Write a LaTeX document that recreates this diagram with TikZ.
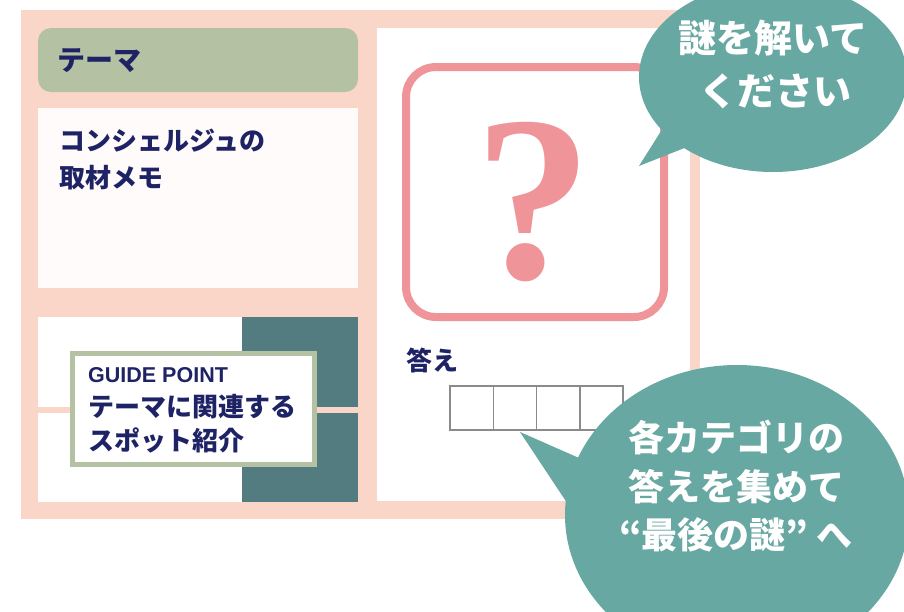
\documentclass[tikz,border=0pt]{standalone}
\usepackage{fontspec}
\newfontfamily\jp{Noto Sans CJK JP}
\newfontfamily\gfont{Liberation Sans}
\newfontfamily\qfont{Liberation Serif}
\definecolor{framepink}{HTML}{F9D6C8}
\definecolor{themegreen}{HTML}{B4C1A3}
\definecolor{memowhite}{HTML}{FFFBFA}
\definecolor{darkteal}{HTML}{537C80}
\definecolor{bubbleteal}{HTML}{68A8A2}
\definecolor{qpink}{HTML}{EF9499}
\definecolor{navy}{HTML}{1E2365}
\definecolor{boxgray}{HTML}{8A8A8A}
\tikzset{
  jtxt/.style={inner sep=0pt, text=navy, font=\jp\bfseries\fontsize{26}{26}\selectfont},
  wtxt/.style={inner sep=0pt, text=white, anchor=base},
  ansbox/.style={draw=boxgray, line width=1.5pt, fill=white},
  bubble/.style={fill=bubbleteal, draw=none}
}
\begin{document}
\begin{tikzpicture}[x=1pt,y=-1pt]
\useasboundingbox (0,0) rectangle (904,611);
\clip (0,0) rectangle (904,611);
% frame
\fill[framepink] (21,10) rectangle (700,519);
\fill[white] (377,28) rectangle (690,501);
% left column
\fill[themegreen, rounded corners=13pt] (38,28) rectangle (358,92);
\fill[memowhite] (38,108) rectangle (358,288);
\fill[white] (38,317) rectangle (242,407);
\fill[white] (38,413) rectangle (242,502);
\fill[darkteal] (242,317) rectangle (358,407);
\fill[darkteal] (242,413) rectangle (358,502);
\node[jtxt, anchor=base west, font=\jp\bfseries\fontsize{28}{28}\selectfont] (theme) at (57,70) {テーマ};
\node[jtxt, anchor=base west] (memo1) at (59,150) {コンシェルジュの};
\node[jtxt, anchor=base west] (memo2) at (59,187) {取材メモ};
% guide point
\draw[themegreen, line width=5pt, fill=white] (72,353.5) rectangle (314.5,464.5);
\node[inner sep=0pt, anchor=base west, text=navy, font=\gfont\bfseries\fontsize{21.5}{21.5}\selectfont] (gp) at (88,382) {GUIDE POINT};
\node[jtxt, anchor=base west] (gp1) at (88,416) {テーマに関連する};
\node[jtxt, anchor=base west] (gp2) at (88,450) {スポット紹介};
% question box
\draw[qpink, line width=8pt, rounded corners=30pt] (406,67) rectangle (664,317);
\node[inner sep=0pt, text=qpink, font=\qfont\bfseries\fontsize{236}{236}\selectfont] (q) at (533,202) {?};
% answer
\node[jtxt, anchor=base west] (ans) at (406,370) {答え};
\foreach \i in {0,1,2,3}{
  \draw[ansbox] ({450+43.25*\i},386) rectangle ({450+43.25*(\i+1)},430);
}
% bubble 1
\fill[bubble] (773,77) ellipse [x radius=134, y radius=95];
\fill[bubble] (639,166) -- (668,120) -- (692,145) -- cycle;
\node[wtxt, font=\jp\bfseries\fontsize{38}{38}\selectfont] (b1a) at (773,52) {謎を解いて};
\node[wtxt, font=\jp\bfseries\fontsize{38}{38}\selectfont] (b1b) at (775,105) {ください};
% bubble 2
\fill[bubble] (737,515) ellipse [x radius=172, y radius=150];
\fill[bubble] (520,432) -- (595,465) -- (585,530) -- cycle;
\node[wtxt, font=\jp\bfseries\fontsize{36}{36}\selectfont] (b2a) at (736,451) {各カテゴリの};
\node[wtxt, font=\jp\bfseries\fontsize{36}{36}\selectfont] (b2b) at (736,500) {答えを集めて};
\node[wtxt, font=\jp\bfseries\fontsize{36}{36}\selectfont] (b2c) at (736,548) {“最後の謎” へ};
\end{tikzpicture}
\end{document}
